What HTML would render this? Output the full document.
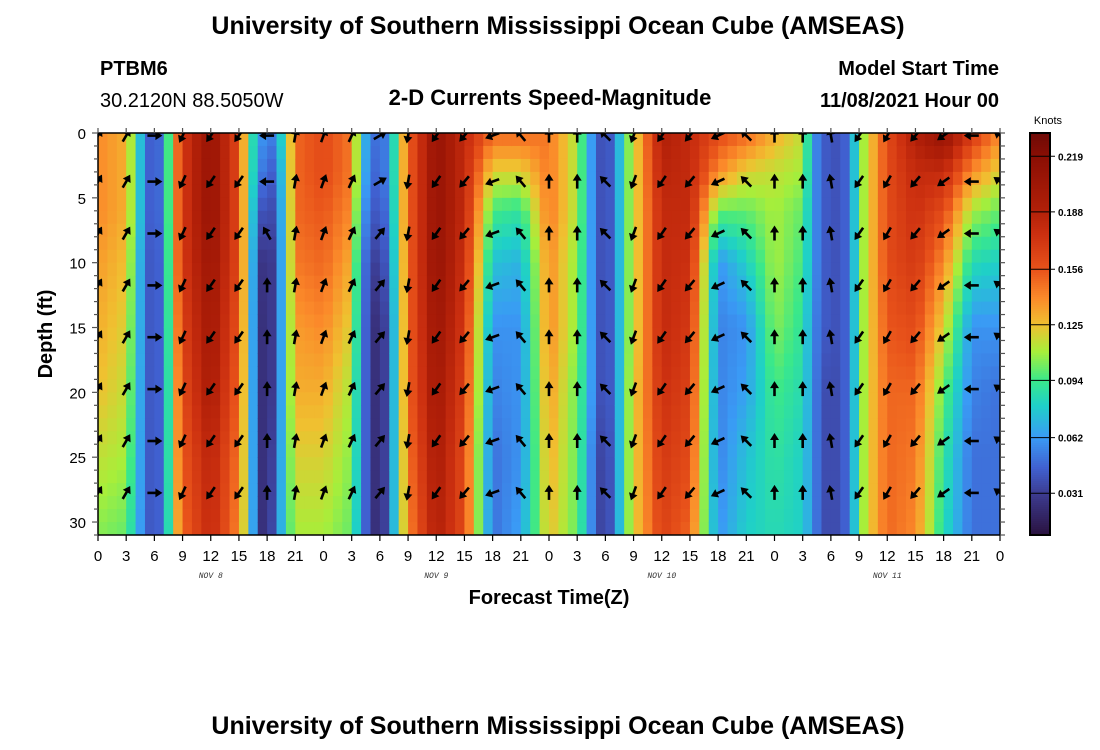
<!DOCTYPE html>
<html><head><meta charset="utf-8"><style>
html,body{margin:0;padding:0;background:#fff;}
svg{display:block;font-family:"Liberation Sans",sans-serif;}
</style></head><body>
<svg id="chart" width="1100" height="750" viewBox="0 0 1100 750" xmlns="http://www.w3.org/2000/svg">
<text x="558" y="34" text-anchor="middle" font-size="25" font-weight="bold">University of Southern Mississippi Ocean Cube (AMSEAS)</text>
<text x="100" y="75" font-size="20" font-weight="bold">PTBM6</text>
<text x="100" y="107" font-size="20">30.2120N  88.5050W</text>
<text x="550" y="105" text-anchor="middle" font-size="22" font-weight="bold">2-D Currents Speed-Magnitude</text>
<text x="999" y="75" text-anchor="end" font-size="20" font-weight="bold">Model Start Time</text>
<text x="999" y="107" text-anchor="end" font-size="20" font-weight="bold">11/08/2021 Hour 00</text>
<defs><clipPath id="plotclip"><rect x="98" y="133" width="902" height="402"/></clipPath></defs>
<g id="cells" clip-path="url(#plotclip)"></g>
<g id="arrows" clip-path="url(#plotclip)"></g>
<g id="axes"></g>
<text transform="translate(52,334) rotate(-90)" text-anchor="middle" font-size="20" font-weight="bold">Depth (ft)</text>
<text x="549" y="604" text-anchor="middle" font-size="20" font-weight="bold">Forecast Time(Z)</text>
<g id="cbar"></g>
<text x="1048" y="124" text-anchor="middle" font-size="11">Knots</text>
<text x="558" y="734" text-anchor="middle" font-size="25" font-weight="bold">University of Southern Mississippi Ocean Cube (AMSEAS)</text>
</svg>
<script>
const hours = [0,3,5,6,7,8,9,12,15,16,17,18,19,20,21,24,27,28,29,30,31,32,33,36,39,42,45,48,51,52,53,54,55,56,57,60,63,66,69,72,75,76,77,78,79,80,81,82,84,87,90,93,96];
const depths = [0,3,6,10,15,20,25,31];
const speed = [
[.14,.14,.14,.135,.13,.125,.115,.105],
[.13,.13,.13,.125,.12,.115,.11,.10],
[.055,.055,.055,.05,.05,.05,.05,.05],
[.035,.035,.035,.035,.035,.035,.035,.035],
[.06,.06,.06,.055,.055,.055,.055,.055],
[.13,.13,.13,.13,.125,.12,.12,.115],
[.17,.17,.17,.17,.165,.16,.155,.15],
[.21,.21,.21,.205,.2,.195,.185,.18],
[.16,.16,.16,.16,.155,.15,.145,.14],
[.10,.10,.10,.10,.10,.10,.10,.10],
[.07,.065,.05,.035,.03,.03,.03,.03],
[.05,.04,.03,.02,.02,.02,.02,.02],
[.06,.05,.045,.04,.04,.04,.045,.05],
[.10,.095,.09,.09,.09,.09,.09,.09],
[.15,.15,.15,.145,.135,.13,.12,.11],
[.16,.16,.155,.15,.14,.13,.12,.11],
[.145,.145,.14,.13,.12,.11,.105,.10],
[.08,.08,.07,.06,.06,.06,.06,.06],
[.055,.05,.045,.035,.03,.03,.03,.03],
[.045,.045,.04,.03,.02,.02,.02,.02],
[.06,.06,.055,.05,.045,.045,.045,.045],
[.11,.11,.11,.105,.10,.10,.10,.10],
[.15,.15,.15,.15,.15,.15,.145,.14],
[.21,.21,.21,.21,.205,.2,.195,.19],
[.18,.18,.18,.175,.17,.165,.16,.16],
[.15,.12,.095,.075,.06,.055,.05,.05],
[.15,.12,.09,.07,.06,.06,.06,.065],
[.145,.145,.145,.14,.14,.135,.13,.125],
[.11,.11,.11,.105,.105,.10,.10,.10],
[.08,.08,.08,.08,.08,.08,.075,.075],
[.045,.045,.045,.045,.045,.045,.04,.04],
[.035,.035,.035,.035,.035,.035,.03,.03],
[.05,.05,.05,.05,.05,.05,.05,.05],
[.095,.095,.095,.095,.095,.095,.095,.095],
[.115,.115,.115,.115,.115,.12,.12,.12],
[.19,.185,.18,.18,.18,.175,.17,.165],
[.18,.18,.18,.175,.17,.165,.16,.15],
[.16,.14,.10,.06,.055,.055,.055,.06],
[.15,.12,.10,.08,.06,.065,.075,.08],
[.13,.115,.11,.11,.105,.095,.09,.085],
[.115,.11,.10,.095,.09,.085,.08,.08],
[.065,.065,.065,.065,.06,.06,.06,.06],
[.045,.045,.045,.045,.045,.04,.04,.04],
[.04,.04,.04,.04,.04,.035,.035,.035],
[.04,.04,.04,.04,.04,.04,.04,.04],
[.05,.05,.05,.05,.05,.05,.05,.05],
[.10,.10,.10,.10,.10,.10,.10,.10],
[.12,.12,.12,.12,.12,.12,.12,.12],
[.16,.16,.16,.16,.155,.15,.15,.15],
[.19,.18,.175,.17,.16,.15,.145,.14],
[.21,.18,.16,.14,.12,.10,.09,.085],
[.17,.14,.11,.085,.06,.055,.05,.05],
[.14,.12,.10,.08,.06,.05,.05,.05]
];
const arrowHours = [0,3,6,9,12,15,18,21,24,27,30,33,36,39,42,45,48,51,54,57,60,63,66,69,72,75,78,81,84,87,90,93,96];
const arrowDepths = [0.2,3.75,7.75,11.75,15.75,19.75,23.75,27.75];
const arrowDir = [30,30,90,205,215,215,0,10,20,25,40,190,215,220,250,320,0,0,315,200,215,220,245,315,0,0,350,215,210,220,235,270,305];
const surfDir = {18:270, 30:60};
const yTicks = [0,5,10,15,20,25,30];
const xTickLabels = ["0","3","6","9","12","15","18","21"];
const dayLabels = ["NOV 8","NOV 9","NOV 10","NOV 11"];
const cbTicks = [0.031,0.062,0.094,0.125,0.156,0.188,0.219];
const vmin = 0.0077, vmax = 0.232;

const NS="http://www.w3.org/2000/svg";
const X0=98,X1=1000,Y0=133,Y1=535;
const xS=h=>X0+h*(X1-X0)/96;
const yS=d=>Y0+d*(Y1-Y0)/31;
function mk(tag,attrs,parent){const e=document.createElementNS(NS,tag);for(const k in attrs)e.setAttribute(k,attrs[k]);parent.appendChild(e);return e;}
const stops=[[0.008,[42,19,64]],[0.03,[60,58,142]],[0.045,[64,96,208]],[0.062,[58,154,245]],[0.08,[31,208,200]],[0.094,[58,232,138]],[0.11,[168,238,58]],[0.125,[240,192,48]],[0.14,[251,138,42]],[0.156,[232,82,26]],[0.175,[204,48,16]],[0.19,[176,31,8]],[0.219,[138,14,4]],[0.232,[110,10,6]]];
function cmap(v){if(v<=stops[0][0])return `rgb(${stops[0][1]})`;for(let i=1;i<stops.length;i++){if(v<=stops[i][0]){const a=stops[i-1],b=stops[i];const t=(v-a[0])/(b[0]-a[0]);return `rgb(${a[1].map((c,j)=>Math.round(c+(b[1][j]-c)*t)).join(',')})`;}}return `rgb(${stops[stops.length-1][1]})`;}
function idx(arr,v){for(let i=0;i<arr.length-1;i++)if(v<=arr[i+1])return i;return arr.length-2;}
function val(h,d){const i=idx(hours,h),j=idx(depths,d);const th=(h-hours[i])/(hours[i+1]-hours[i]);const td=Math.max(0,Math.min(1,(d-depths[j])/(depths[j+1]-depths[j])));
const a=speed[i][j]+(speed[i][j+1]-speed[i][j])*td;const b=speed[i+1][j]+(speed[i+1][j+1]-speed[i+1][j])*td;return a+(b-a)*th;}
const cells=document.getElementById('cells');
for(let h=0;h<96;h++){for(let d=0;d<31;d++){
 const r=mk('rect',{x:xS(h).toFixed(2),y:yS(d).toFixed(2),width:(xS(h+1)-xS(h)+0.5).toFixed(2),height:(yS(d+1)-yS(d)+0.5).toFixed(2),fill:cmap(val(h+0.5,d+0.5))},cells);
 
 
}}
const arrows=document.getElementById('arrows');
arrowHours.forEach((h,i)=>{arrowDepths.forEach((d,k)=>{
 let ang=arrowDir[i];
 if(k<=1 && surfDir[h]!==undefined)ang=surfDir[h];
 if(h===18&&k===2)ang=330;
 const g=mk('g',{transform:`translate(${xS(h).toFixed(1)},${yS(d).toFixed(1)}) rotate(${ang})`},arrows);
 
 
 mk('line',{x1:0,y1:7,x2:0,y2:-2,stroke:'#000','stroke-width':2.6},g);
 mk('path',{d:'M-4.5,-1 L4.5,-1 L0,-8 Z',fill:'#000'},g);
});});
const ax=document.getElementById('axes');
mk('rect',{x:X0,y:Y0,width:X1-X0,height:Y1-Y0,fill:'none',stroke:'#000','stroke-width':1.5},ax);
for(let h=0;h<=96;h+=3){
 mk('line',{x1:xS(h),y1:Y1,x2:xS(h),y2:Y1+6,stroke:'#000','stroke-width':1.2},ax);
 mk('line',{x1:xS(h),y1:Y0,x2:xS(h),y2:Y0-5,stroke:'#555','stroke-width':1.2},ax);
 const t=mk('text',{x:xS(h),y:561,'text-anchor':'middle','font-size':15},ax);
 t.textContent=xTickLabels[(h/3)%8];
 
 
}
dayLabels.forEach((s,i)=>{const t=mk('text',{x:xS(12+24*i),y:578,'text-anchor':'middle','font-size':8,'font-style':'italic','font-family':'Liberation Mono, monospace',fill:'#333'},ax);
 t.textContent=s;
 
 });
for(let d=0;d<=31;d++){
 const L=d%5===0?6:4;
 mk('line',{x1:X0-L,y1:yS(d),x2:X0,y2:yS(d),stroke:'#555','stroke-width':1.2},ax);
 mk('line',{x1:X1,y1:yS(d),x2:X1+5,y2:yS(d),stroke:'#555','stroke-width':1.2},ax);
}
yTicks.forEach(v=>{const t=mk('text',{x:86,y:yS(v)+6,'text-anchor':'end','font-size':15},ax);
 t.textContent=v;
 
 });
const cb=document.getElementById('cbar');
const CX=1030,CW=20;
for(let y=Y0;y<Y1;y+=2){const v=vmax-(y+1-Y0)/(Y1-Y0)*(vmax-vmin);mk('rect',{x:CX,y:y,width:CW,height:2.5,fill:cmap(v)},cb);}
mk('rect',{x:CX,y:Y0,width:CW,height:Y1-Y0,fill:'none',stroke:'#000','stroke-width':2},cb);
const cy=v=>Y0+(vmax-v)/(vmax-vmin)*(Y1-Y0);
cbTicks.forEach(v=>{
 mk('line',{x1:CX,y1:cy(v),x2:CX+CW+5,y2:cy(v),stroke:'#000','stroke-width':1},cb);
 const t=mk('text',{x:CX+CW+8,y:cy(v)+4,'font-size':10,'font-weight':'bold'},cb);
 t.textContent=v.toFixed(3);
 
 
});
</script>
</body></html>
